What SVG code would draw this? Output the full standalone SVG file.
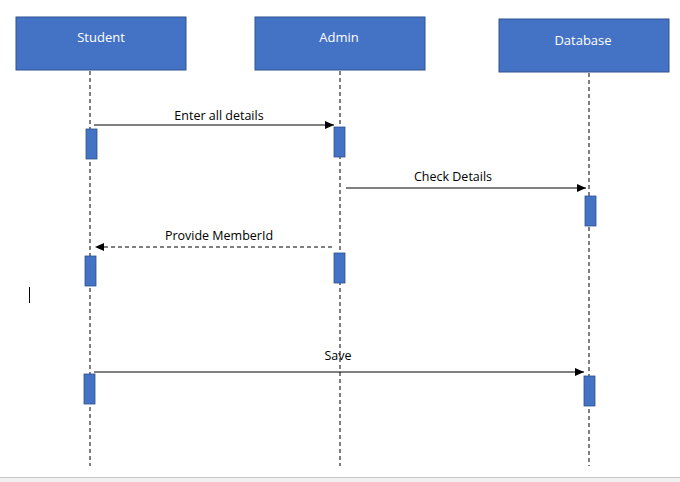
<svg xmlns="http://www.w3.org/2000/svg" width="680" height="482" viewBox="0 0 680 482">
<style>
.box{fill:#4472C4;stroke:#2F528F;stroke-width:1}
.lbl{font-family:"Open Sans","Liberation Sans",sans-serif;font-size:13px;fill:#ffffff;text-anchor:middle}
.life{stroke:#000;stroke-width:1;stroke-dasharray:4,3;fill:none}
.act{fill:#4472C4;stroke:#2F528F;stroke-width:0.8}
.msg{stroke:#000;stroke-width:1;fill:none}
.txt{font-family:"Open Sans","Liberation Sans",sans-serif;font-size:12.5px;fill:#000;text-anchor:middle}
</style>
<defs>
<marker id="ah" markerWidth="10" markerHeight="8" refX="9" refY="4" orient="auto" markerUnits="userSpaceOnUse">
<path d="M0,0 L9,4 L0,8 Z" fill="#000"/>
</marker>
</defs>
<rect x="0" y="0" width="680" height="482" fill="#ffffff"/>
<g id="lifelines">
<line class="life" x1="90" y1="71" x2="90" y2="466"/>
<line class="life" x1="340" y1="71" x2="340" y2="466"/>
<line class="life" x1="589" y1="73" x2="589" y2="466"/>
</g>
<g id="student">
<rect class="box" x="16" y="17" width="170" height="53"/>
<text class="lbl" x="101" y="42">Student</text>
</g>
<g id="admin">
<rect class="box" x="255" y="17" width="170" height="53"/>
<text class="lbl" x="339" y="42">Admin</text>
</g>
<g id="database">
<rect class="box" x="499" y="19" width="170" height="53"/>
<text class="lbl" x="583" y="45">Database</text>
</g>
<g id="activations">
<rect class="act" x="86" y="129" width="11" height="30"/>
<rect class="act" x="334" y="127" width="11" height="30"/>
<rect class="act" x="585" y="196" width="11" height="30"/>
<rect class="act" x="334" y="253" width="11" height="30"/>
<rect class="act" x="85" y="256" width="11" height="30"/>
<rect class="act" x="84" y="374" width="11" height="30"/>
<rect class="act" x="584" y="376" width="11" height="30"/>
</g>
<g id="connectors">
<line class="msg" x1="94" y1="125" x2="334" y2="125" marker-end="url(#ah)"/>
<text class="txt" x="219" y="120">Enter all details</text>
<line class="msg" x1="346" y1="188" x2="586" y2="188" marker-end="url(#ah)"/>
<text class="txt" x="453" y="181">Check Details</text>
<line class="msg" x1="332" y1="247" x2="95" y2="247" stroke-dasharray="4,3" marker-end="url(#ah)"/>
<text class="txt" x="219" y="240">Provide MemberId</text>
<line class="msg" x1="94" y1="372" x2="584" y2="372" marker-end="url(#ah)"/>
<text class="txt" x="338" y="360">Save</text>
</g>
<line x1="29.5" y1="287" x2="29.5" y2="303" stroke="#000" stroke-width="1"/>
<rect x="0" y="477" width="680" height="5" fill="#f0f0f0"/>
<line x1="0" y1="477.5" x2="680" y2="477.5" stroke="#c8c8c8" stroke-width="1"/>
</svg>
